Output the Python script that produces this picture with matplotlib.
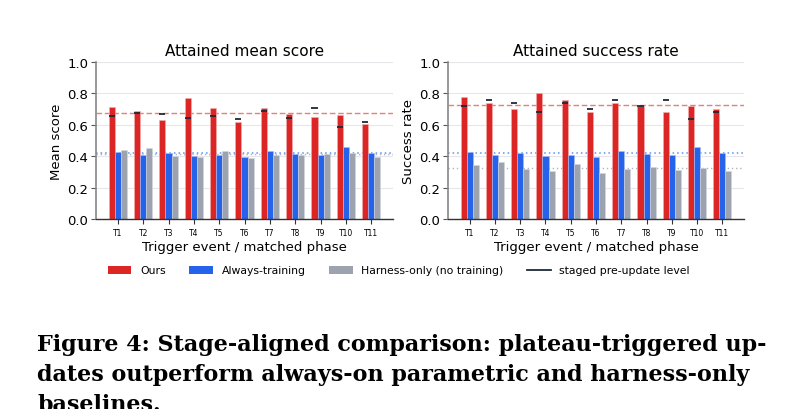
import matplotlib
matplotlib.use("Agg")
import matplotlib.pyplot as plt
import numpy as np
from matplotlib.patches import Patch
from matplotlib.lines import Line2D

triggers = ["T1", "T2", "T3", "T4", "T5", "T6", "T7", "T8", "T9", "T10", "T11"]

# Attained mean score
score_ours = [0.712, 0.686, 0.633, 0.769, 0.705, 0.617, 0.708, 0.669, 0.648, 0.663, 0.602]
score_always = [0.426, 0.408, 0.419, 0.402, 0.409, 0.398, 0.432, 0.415, 0.407, 0.458, 0.419]
score_harness = [0.439, 0.451, 0.400, 0.394, 0.432, 0.386, 0.409, 0.409, 0.413, 0.419, 0.392]
score_staged = [0.659, 0.678, 0.667, 0.646, 0.659, 0.640, 0.686, 0.642, 0.710, 0.589, 0.617]

# Attained success rate
succ_ours = [0.78, 0.74, 0.70, 0.80, 0.76, 0.68, 0.74, 0.72, 0.68, 0.72, 0.70]
succ_always = [0.426, 0.408, 0.419, 0.402, 0.409, 0.398, 0.432, 0.415, 0.407, 0.458, 0.419]
succ_harness = [0.343, 0.360, 0.316, 0.305, 0.350, 0.292, 0.318, 0.331, 0.311, 0.324, 0.305]
succ_staged = [0.72, 0.76, 0.74, 0.68, 0.74, 0.70, 0.76, 0.72, 0.76, 0.64, 0.68]

titles = ["Attained mean score", "Attained success rate"]
ylabels = ["Mean score", "Success rate"]
xlabel = "Trigger event / matched phase"
legend_labels = ["Ours", "Always-training", "Harness-only (no training)", "staged pre-update level"]
caption_lines = [
    "Figure 4: Stage-aligned comparison: plateau-triggered up-",
    "dates outperform always-on parametric and harness-only",
    "baselines.",
]

C_RED = "#dc2626"
C_BLUE = "#2563eb"
C_GRAY = "#9ca3af"
C_DARK = "#1f2937"

fig = plt.figure(figsize=(7.99, 4.10), dpi=100)
ax1 = fig.add_axes([0.1202, 0.4634, 0.3717, 0.3829])
ax2 = fig.add_axes([0.5607, 0.4634, 0.3705, 0.3829])

w = 0.24
x = np.arange(len(triggers))

panels = [
    (ax1, score_ours, score_always, score_harness, score_staged),
    (ax2, succ_ours, succ_always, succ_harness, succ_staged),
]

for i, (ax, ours, alw, har, stg) in enumerate(panels):
    ax.set_axisbelow(True)
    ax.grid(axis="y", color="#e5e7eb", linewidth=0.8)
    ax.bar(x - w, ours, w, color=C_RED, edgecolor="#f3b0b0", linewidth=0.4, zorder=2)
    ax.bar(x, alw, w, color=C_BLUE, edgecolor="#a9c0f5", linewidth=0.4, zorder=2)
    ax.bar(x + w, har, w, color=C_GRAY, edgecolor="#d4d8de", linewidth=0.4, zorder=2)
    ax.hlines(stg, x - 1.5 * w, x - 0.5 * w, color=C_DARK, linewidth=1.3, zorder=3)
    ax.axhline(np.mean(ours), color=C_RED, linestyle=(0, (4, 2)), linewidth=1.0, alpha=0.6, zorder=1.5)
    ax.axhline(np.mean(har), color=C_GRAY, linestyle=(0, (1, 2)), linewidth=1.0, alpha=0.8, zorder=1.5)
    ax.axhline(np.mean(alw), color="#3b82f6", linestyle=(0, (1, 2)), linewidth=1.1, alpha=0.85, zorder=1.5)
    ax.set_ylim(0, 1.0)
    ax.set_xlim(-0.86, 10.86)
    ax.set_yticks([0.0, 0.2, 0.4, 0.6, 0.8, 1.0])
    ax.set_xticks(x)
    ax.set_xticklabels(triggers, fontsize=5.5)
    ax.tick_params(axis="y", labelsize=9.5, length=3.5, width=0.8, color="#555555", pad=2)
    ax.tick_params(axis="x", length=3.5, width=0.8, color="#333333", pad=3)
    ax.set_title(titles[i], fontsize=11, pad=5)
    ax.set_ylabel(ylabels[i], fontsize=9.5, labelpad=3)
    ax.set_xlabel(xlabel, fontsize=9.5, labelpad=2)
    for s in ["top", "right"]:
        ax.spines[s].set_visible(False)
    ax.spines["left"].set_color("#888888")
    ax.spines["left"].set_linewidth(1.2)
    ax.spines["bottom"].set_color("#333333")
    ax.spines["bottom"].set_linewidth(1.0)

handles = [
    Patch(facecolor=C_RED, edgecolor="none"),
    Patch(facecolor=C_BLUE, edgecolor="none"),
    Patch(facecolor=C_GRAY, edgecolor="none"),
    Line2D([0], [0], color=C_DARK, linewidth=1.3),
]
fig.legend(handles, legend_labels, loc="center", bbox_to_anchor=(0.499, 1 - 271.5 / 410),
           ncol=4, frameon=False, fontsize=7.8, handlelength=2.2, handleheight=0.7,
           columnspacing=2.15, handletextpad=0.8)

for j, line in enumerate(caption_lines):
    fig.text(37 / 799, 1 - (351 + 30 * j) / 410, line, family="DejaVu Serif",
             fontweight="bold", fontsize=16.0, ha="left", va="baseline", color="black")

fig.savefig("out.png", dpi=100)
